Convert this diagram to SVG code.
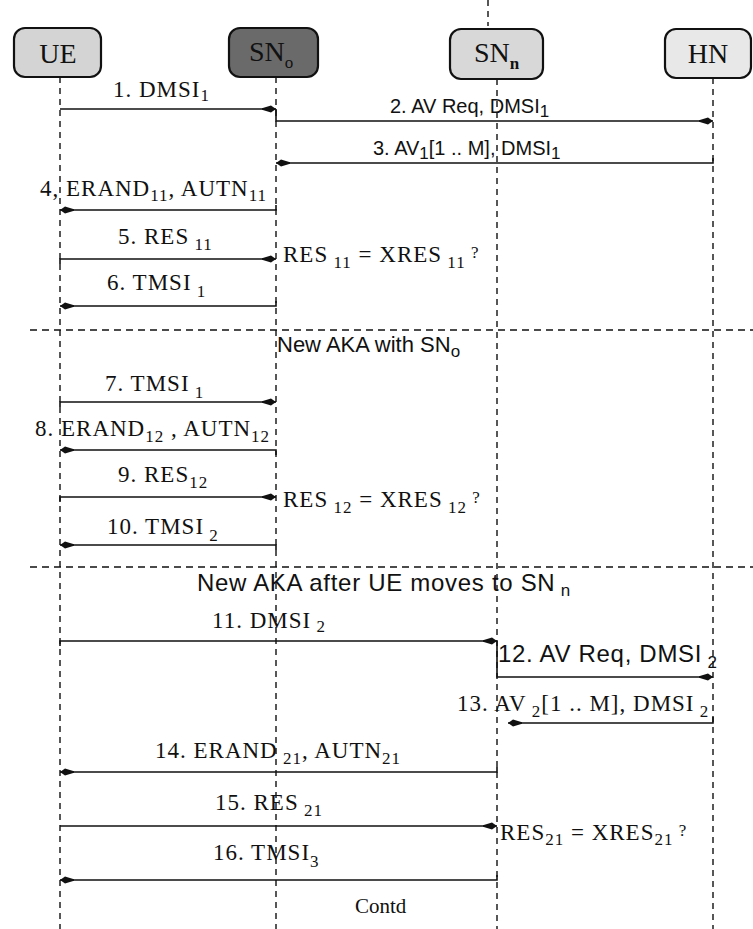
<svg xmlns="http://www.w3.org/2000/svg" width="753" height="929" viewBox="0 0 753 929">
<style>
.box{stroke:#111;stroke-width:2.2}
.ll{stroke:#111;stroke-width:1.4;stroke-dasharray:6 5;fill:none}
.sep{stroke:#111;stroke-width:1.3;stroke-dasharray:7 5;fill:none}
.msg{stroke:#111;stroke-width:1.6;fill:none;marker-end:url(#ah)}
.s{font-family:"Liberation Serif","Times New Roman",serif;font-size:23px;letter-spacing:1px;fill:#111}
.a{font-family:"Liberation Sans",Arial,sans-serif;font-size:20px;fill:#111}
.b{font-family:"Liberation Sans",Arial,sans-serif;font-size:24px;letter-spacing:0.7px;fill:#111}
.w{font-family:"Liberation Sans",Arial,sans-serif;font-size:22px;fill:#111}
.bl{font-family:"Liberation Serif","Times New Roman",serif;font-size:28px;fill:#111}
.c{font-family:"Liberation Serif","Times New Roman",serif;font-size:21px;fill:#111}
.sub{font-size:17px}
</style>
<defs>
<marker id="ah" markerUnits="userSpaceOnUse" viewBox="-15 -4 16 8" refX="0" refY="0" markerWidth="16" markerHeight="8" orient="auto">
<path d="M0,0 L-5,-3.4 L-14,-0.8 L-14,0.8 L-5,3.4 Z" fill="#111"/>
</marker>
</defs>

<g id="lifelines">
<line class="ll" x1="60" y1="77" x2="60" y2="929"/>
<line class="ll" x1="276" y1="77" x2="276" y2="929"/>
<line class="ll" x1="497" y1="79" x2="497" y2="929"/>
<line class="ll" x1="713" y1="78" x2="713" y2="929"/>
<line class="ll" x1="488" y1="0" x2="488" y2="26"/>
</g>

<g id="UE">
<rect class="box" x="14" y="28" width="87" height="49" rx="11" fill="#d4d4d4"/>
<text class="bl" x="58" y="63" text-anchor="middle">UE</text>
</g>
<g id="SNo">
<rect class="box" x="229" y="28" width="89" height="49" rx="11" fill="#6a6a6a"/>
<text class="bl" x="249" y="61">SN<tspan class="sub" dy="7">o</tspan></text>
</g>
<g id="SNn">
<rect class="box" x="450" y="29" width="93" height="50" rx="11" fill="#d8d8d8"/>
<text class="bl" x="474" y="62">SN<tspan class="sub" dy="7" font-weight="bold">n</tspan></text>
</g>
<g id="HN">
<rect class="box" x="665" y="29" width="86" height="49" rx="11" fill="#e8e8e8"/>
<text class="bl" x="708" y="63" text-anchor="middle">HN</text>
</g>

<g id="separators">
<line class="sep" x1="30" y1="330" x2="753" y2="330"/>
<line class="sep" x1="30" y1="567" x2="753" y2="567"/>
</g>

<g id="connectors">
<path class="msg" d="M60,109 H276"/>
<path class="msg" d="M276,109 V121 H713"/>
<path class="msg" d="M713,158 V163 H276"/>
<path class="msg" d="M276,205 V210 H60"/>
<path class="msg" d="M60,264 V259 H276"/>
<path class="msg" d="M276,301 V306 H60"/>
<path class="msg" d="M60,407 V402 H276"/>
<path class="msg" d="M276,455 V450 H60"/>
<path class="msg" d="M60,502 V497 H276"/>
<path class="msg" d="M276,550 V545 H60"/>
<path class="msg" d="M60,646 V641 H497"/>
<path class="msg" d="M497,641 V677 H713"/>
<path class="msg" d="M713,717 V723 H508"/>
<path class="msg" d="M497,767 V772 H60"/>
<path class="msg" d="M60,826 H497"/>
<path class="msg" d="M497,875 V880 H60"/>
</g>

<g id="labels">
<text class="s" x="113" y="97">1. DMSI<tspan class="sub" dy="4">1</tspan></text>
<text class="a" x="390" y="113">2. AV Req, DMSI<tspan class="sub" dy="4">1</tspan></text>
<text class="a" x="373" y="155">3. AV<tspan class="sub" dy="4">1</tspan><tspan dy="-4">[1 .. M], DMSI</tspan><tspan class="sub" dy="4">1</tspan></text>
<text class="s" x="40" y="196">4, ERAND<tspan class="sub" dy="5">11</tspan><tspan dy="-5">,  AUTN</tspan><tspan class="sub" dy="5">11</tspan></text>
<text class="s" x="118" y="244">5. RES<tspan class="sub" dy="6"> 11</tspan></text>
<text class="s" x="283" y="262">RES<tspan class="sub" dy="6"> 11</tspan><tspan dy="-6"> = XRES</tspan><tspan class="sub" dy="6"> 11</tspan><tspan class="sub" dy="-10"> ?</tspan></text>
<text class="s" x="107" y="290">6. TMSI<tspan class="sub" dy="7"> 1</tspan></text>
<text class="w" x="277" y="352">New AKA with SN<tspan class="sub" dy="5">o</tspan></text>
<text class="s" x="105" y="391">7. TMSI<tspan class="sub" dy="7"> 1</tspan></text>
<text class="s" x="35" y="436">8. ERAND<tspan class="sub" dy="6">12</tspan><tspan dy="-6"> , AUTN</tspan><tspan class="sub" dy="6">12</tspan></text>
<text class="s" x="118" y="482">9. RES<tspan class="sub" dy="6">12</tspan></text>
<text class="s" x="283" y="507">RES<tspan class="sub" dy="6"> 12</tspan><tspan dy="-6"> = XRES</tspan><tspan class="sub" dy="6"> 12</tspan><tspan class="sub" dy="-10"> ?</tspan></text>
<text class="s" x="107" y="534">10. TMSI<tspan class="sub" dy="7"> 2</tspan></text>
<text class="b" x="197" y="591">New AKA after UE moves to SN<tspan class="sub" dy="5"> n</tspan></text>
<text class="s" x="212" y="628">11. DMSI<tspan class="sub" dy="4"> 2</tspan></text>
<text class="b" x="498" y="662">12. AV Req, DMSI<tspan class="sub" dy="6"> 2</tspan></text>
<text class="s" x="457" y="711">13. AV<tspan class="sub" dy="6"> 2</tspan><tspan dy="-6">[1 .. M], DMSI</tspan><tspan class="sub" dy="6"> 2</tspan></text>
<text class="s" x="155" y="758">14. ERAND<tspan class="sub" dy="6"> 21</tspan><tspan dy="-6">, AUTN</tspan><tspan class="sub" dy="6">21</tspan></text>
<text class="s" x="215" y="810">15. RES<tspan class="sub" dy="6"> 21</tspan></text>
<text class="s" x="500" y="840">RES<tspan class="sub" dy="5">21</tspan><tspan dy="-5"> = XRES</tspan><tspan class="sub" dy="5">21</tspan><tspan class="sub" dy="-9"> ?</tspan></text>
<text class="s" x="213" y="860">16. TMSI<tspan class="sub" dy="7">3</tspan></text>
<text class="c" x="355" y="913">Contd</text>
</g>
</svg>
